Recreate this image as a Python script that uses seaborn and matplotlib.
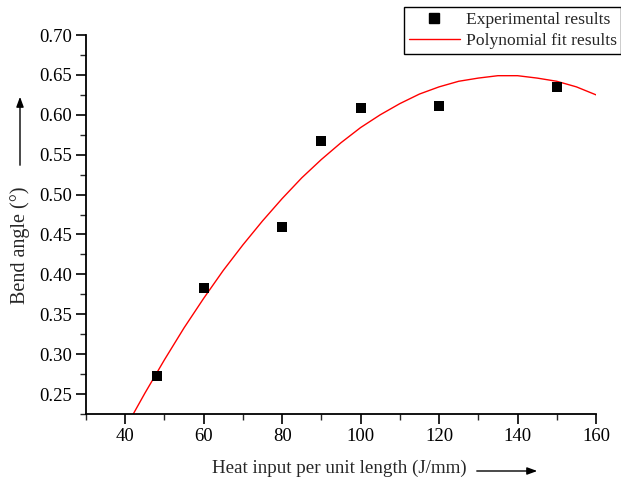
import numpy as np
import pandas as pd
import matplotlib
matplotlib.use("Agg")
import matplotlib.pyplot as plt
import seaborn as sns
from matplotlib.lines import Line2D

# Experimental data
heat_input = [48, 60, 80, 90, 100, 120, 150]
bend_angle = [0.273, 0.383, 0.459, 0.567, 0.609, 0.611, 0.635]

# Polynomial fit curve
fit_x = [40, 45, 50, 55, 60, 65, 70, 75, 80, 85, 90, 95, 100,
         105, 110, 115, 120, 125, 130, 135, 140, 145, 150, 155, 160]
fit_y = [0.207, 0.251, 0.293, 0.333, 0.370, 0.405, 0.437, 0.467, 0.495,
         0.521, 0.544, 0.565, 0.584, 0.600, 0.614, 0.626, 0.635, 0.642,
         0.646, 0.649, 0.649, 0.646, 0.642, 0.635, 0.625]

x_ticks = [40, 60, 80, 100, 120, 140, 160]
y_ticks = [0.25, 0.30, 0.35, 0.40, 0.45, 0.50, 0.55, 0.60, 0.65, 0.70]

sns.set_style("ticks")
plt.rcParams['font.family'] = ['Liberation Serif', 'DejaVu Serif']

fig = plt.figure(figsize=(6.21, 4.83), dpi=100)
ax = fig.add_axes([86/621, 1-414/483, (596-86)/621, (414-35)/483])

df_exp = pd.DataFrame({"x": heat_input, "y": bend_angle})
df_fit = pd.DataFrame({"x": fit_x, "y": fit_y})

sns.lineplot(data=df_fit, x="x", y="y", ax=ax, color="red", lw=1.0, zorder=2)
sns.scatterplot(data=df_exp, x="x", y="y", ax=ax, marker="s", color="black",
                s=45, edgecolor="black", linewidth=0, zorder=3)

ax.set_xlim(30, 160)
ax.set_ylim(0.225, 0.70)
ax.set_xticks(x_ticks)
ax.set_yticks(y_ticks)
ax.set_yticklabels([f"{v:.2f}" for v in y_ticks])
ax.set_xticks(np.arange(30, 161, 10), minor=True)
ax.set_yticks(np.arange(0.225, 0.701, 0.025), minor=True)
ax.tick_params(which="major", direction="out", length=7, width=1.2, labelsize=13.5, colors="black", pad=3)
ax.tick_params(which="minor", direction="out", length=4, width=1.0)
for s in ["top", "right"]:
    ax.spines[s].set_visible(False)
for s in ["left", "bottom"]:
    ax.spines[s].set_linewidth(1.3)
    ax.spines[s].set_color("black")
ax.set_xlabel("")
ax.set_ylabel("")

# Axis labels with arrows
fig.text(212/621, 1-468/483, "Heat input per unit length (J/mm)", fontsize=13.7,
         ha="left", va="center")
fig.add_artist(matplotlib.patches.FancyArrowPatch(
    (474/621, 1-471/483), (540/621, 1-471/483), transform=fig.transFigure,
    arrowstyle="-|>,head_length=6,head_width=2.2", color="black", lw=1.0,
    mutation_scale=1))
fig.text(20/621, 1-245/483, "Bend angle (°)", fontsize=14.5, rotation=90,
         ha="center", va="center")
fig.add_artist(matplotlib.patches.FancyArrowPatch(
    (20/621, 1-168/483), (20/621, 1-94/483), transform=fig.transFigure,
    arrowstyle="-|>,head_length=6,head_width=2.2", color="black", lw=1.0,
    mutation_scale=1))

handles = [
    Line2D([], [], marker="s", color="black", linestyle="none", markersize=6.5),
    Line2D([], [], color="red", lw=1.0),
]
leg = ax.legend(handles, ["Experimental results", "Polynomial fit results"],
                loc="upper right", bbox_to_anchor=(1.0, 1-7/483),
                bbox_transform=fig.transFigure, fontsize=12.6, frameon=True,
                fancybox=False, edgecolor="black", framealpha=1,
                borderpad=0.25, labelspacing=0.3, handlelength=2.9,
                handletextpad=0.35, borderaxespad=0)
leg.get_frame().set_linewidth(1.0)

fig.savefig("out.png", dpi=100)
